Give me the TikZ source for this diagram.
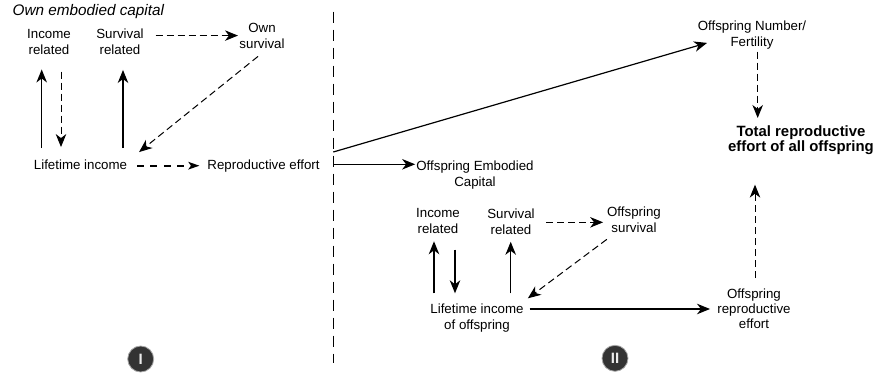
\documentclass[tikz,border=0pt]{standalone}
\usepackage{fontspec}
\setmainfont{Liberation Sans}
\usetikzlibrary{arrows.meta,calc}
\begin{document}
\begin{tikzpicture}[x=1pt,y=-1pt,
  lbl/.style={inner sep=0pt, outer sep=0pt, align=center, font=\fontsize{13.3}{16}\selectfont},
  sa/.style={line width=1.2pt, -{Stealth[length=13pt,width=10.5pt,inset=4pt]}},
  sl/.style={line width=1.2pt, -{Stealth[length=13pt,width=10.5pt,inset=4pt]}},
  da/.style={line width=1pt, dash pattern=on 7pt off 4pt, -{Stealth[length=13pt,width=10.5pt,inset=4pt]}},
  tda/.style={line width=2pt, dash pattern=on 6.7pt off 6.7pt, -{Stealth[length=11pt,width=7.5pt,inset=2.5pt]}},
  sepline/.style={line width=1pt, dash pattern=on 11.7pt off 6.3pt},
  badge/.style={circle, minimum size=26pt, inner sep=0pt, fill=black!80, draw=black!35, line width=0.8pt,
    text=black!8, font=\fontsize{15}{15}\selectfont\bfseries}
]
\useasboundingbox (0,0) rectangle (878,374);

% ---------- part I ----------
\node[lbl, anchor=base west, font=\fontsize{15.3}{18}\selectfont\itshape] (title) at (12.7,15.5) {Own embodied capital};
\node[lbl, anchor=north] (inc) at (49,29.3) {Income\\related};
\node[lbl, anchor=north] (surv) at (120,29.3) {Survival\\related};
\node[lbl, anchor=north] (own) at (262,23.3) {Own\\survival};
\node[lbl, anchor=base] (life) at (80.5,170) {Lifetime income};
\node[lbl, anchor=base] (repro) at (263.5,170) {Reproductive effort};

\draw[sa] ([xshift=-7.3pt,yshift=12.3pt]inc.south |- life.north) -- ([xshift=-7.3pt,yshift=-14.9pt]inc.south);
\draw[da] ([xshift=12pt,yshift=-17pt]inc.south) -- ([xshift=12pt,yshift=13.3pt]inc.south |- life.north);
\draw[sa] ([xshift=3pt,yshift=12.3pt]surv.south |- life.north) -- ([xshift=3pt,yshift=-14.9pt]surv.south);
\draw[da] ([xshift=12pt,yshift=6.6pt]surv.east) -- ([xshift=-1.5pt,yshift=6.6pt]surv.east -| own.west);
\draw[da] ([xshift=-4pt,yshift=-7.7pt]own.south) -- ([xshift=12pt,yshift=8.3pt]life.north east);
\draw[tda] ([xshift=10pt,yshift=4.3pt]life.base east) -- ([xshift=-8pt,yshift=4.3pt]repro.base west);

\node[badge] (b1) at (140.7,359) {I};

% ---------- separator ----------
\draw[sepline] (333.3,11.7) -- (333.3,363);
\coordinate (s1) at (333.3,152);
\coordinate (s2) at (333.3,164.3);

% ---------- part II ----------
\node[lbl, anchor=north] (oec) at (475,160.6) {Offspring Embodied\\Capital};
\node[lbl, anchor=north] (onf) at (752,20.6) {Offspring Number/\\Fertility};
\node[lbl, anchor=north, font=\fontsize{14.9}{15}\selectfont\bfseries] (total) at (801,126.2) {Total reproductive\\effort of all offspring};
\node[lbl, anchor=north] (inc2) at (438,208.6) {Income\\related};
\node[lbl, anchor=north] (surv2) at (511,208.6) {Survival\\related};
\node[lbl, anchor=north] (osv) at (634,207.3) {Offspring\\survival};
\node[lbl, anchor=north] (life2) at (477,304.3) {Lifetime income\\of offspring};
\node[lbl, anchor=north, font=\fontsize{13.3}{15}\selectfont] (ore) at (754,289.3) {Offspring\\reproductive\\effort};

\draw[sl] (s1) -- ([xshift=9.3pt,yshift=6.1pt]onf.south west);
\draw[sa] (s2) -- ([xshift=-1.2pt]s2 -| oec.west);
\draw[da] ([xshift=5.7pt,yshift=-2.6pt]onf.south) -- ([xshift=5.7pt,yshift=8.2pt]onf.south |- total.north);
\draw[da] ([xshift=1pt,yshift=11.3pt]ore.north) -- ([xshift=1pt,yshift=-29.5pt]ore.north |- total.south);

\draw[sa] ([xshift=-4pt,yshift=11pt]inc2.south |- life2.north) -- ([xshift=-4pt,yshift=-7.4pt]inc2.south);
\draw[sa] ([xshift=17pt,yshift=-15.7pt]inc2.south) -- ([xshift=17pt,yshift=11pt]inc2.south |- life2.north);
\draw[sa] ([xshift=-0.3pt,yshift=11pt]surv2.south |- life2.north) -- ([xshift=-0.3pt,yshift=-7.4pt]surv2.south);
\draw[da] ([xshift=11.4pt,yshift=-0.85pt]surv2.east) -- ([xshift=-4pt,yshift=-0.85pt]surv2.east -| osv.west);
\draw[da] ([xshift=-0.3pt,yshift=-6.3pt]osv.south west) -- ([xshift=4.3pt,yshift=6pt]life2.north east);
\draw[sa] ([xshift=6pt,yshift=-4.7pt]life2.north east) -- ([xshift=-7.4pt,yshift=-4.7pt]life2.north east -| ore.west);

\node[badge] (b2) at (615,358.3) {II};
\end{tikzpicture}
\end{document}
